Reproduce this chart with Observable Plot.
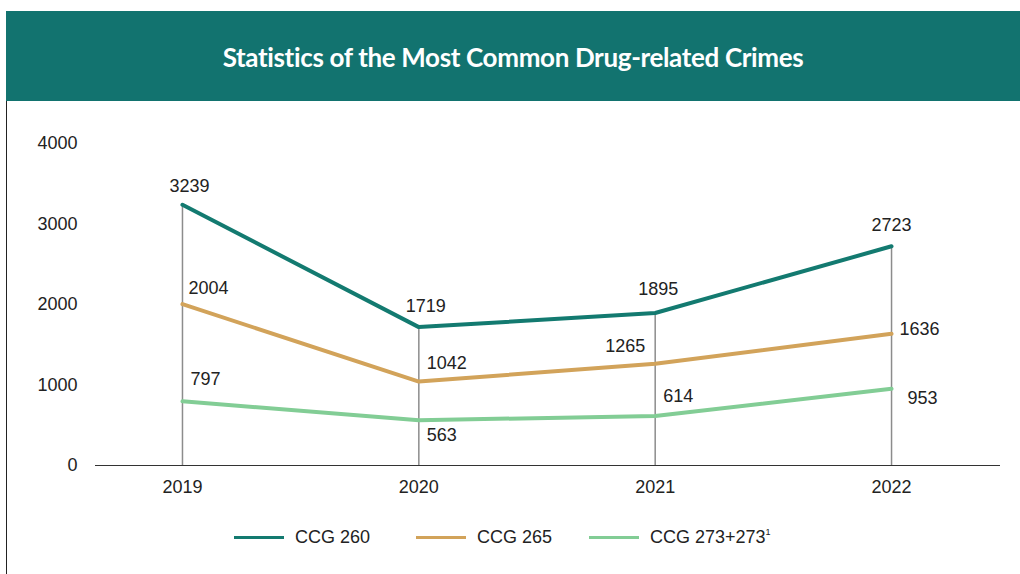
<!DOCTYPE html>
<html>
<head>
<meta charset="utf-8">
<script src="https://cdn.jsdelivr.net/npm/d3@7"></script>
<script src="https://cdn.jsdelivr.net/npm/@observablehq/plot@0.6"></script>
<style>
  html, body { margin: 0; padding: 0; background: #fff; }
  body { width: 1020px; height: 574px; position: relative; overflow: hidden; font-family: "Liberation Sans", Arial, sans-serif; }
  #banner {
    position: absolute; left: 6px; top: 11px; width: 1014px; height: 90px;
    background: #12736f; color: #fff; display: flex; align-items: center; justify-content: center;
  }
  #banner h1 {
    margin: 0; font-family: Lato, "Open Sans", sans-serif; font-weight: 700; font-size: 26px;
    letter-spacing: -0.35px; padding-top: 2px;
  }
  #frame { position: absolute; left: 6px; top: 101px; width: 1px; height: 473px; background: #222; }
  #chart { position: absolute; left: 0; top: 101px; }
  #legend { position: absolute; left: 0; top: 526px; width: 1020px; height: 24px; font-size: 18px; color: #222; }
  .item { position: absolute; top: 0; display: flex; align-items: center; white-space: nowrap; height: 22px; }
  .swatch { width: 50px; height: 3px; margin-right: 11px; }
  sup { font-size: 9px; vertical-align: 8px; line-height: 0; }
</style>
</head>
<body>
<div id="banner"><h1>Statistics of the Most Common Drug-related Crimes</h1></div>
<div id="frame"></div>
<div id="chart"></div>
<div id="legend"></div>
<script>
// Yearly counts for each article of the criminal code
const years = [2019, 2020, 2021, 2022];
const seriesNames = ["CCG 260", "CCG 265", "CCG 273+273"];
const seriesSup = ["", "", "1"];
const ccg260 = [3239, 1719, 1895, 2723];
const ccg265 = [2004, 1042, 1265, 1636];
const ccg273 = [797, 563, 614, 953];
const yTicks = [0, 1000, 2000, 3000, 4000];
const seriesColors = ["#137a70", "#d2a35a", "#82cd95"];

const seriesValues = [ccg260, ccg265, ccg273];

// long table: one row per series and year
const rows = seriesNames.flatMap((name, s) =>
  years.map((year, i) => ({ series: name, year, value: seriesValues[s][i], s, i }))
);

// value label placement (offset from the point, anchor) per series, per year
const labelPlacement = [
  [[7, -19, "middle"], [7, -21, "middle"], [3, -24, "middle"], [0, -21, "middle"]],
  [[6, -16, "start"], [8, -18, "start"], [-10, -17, "end"], [8, -5, "start"]],
  [[8, -22, "start"], [8, 15, "start"], [8, -20, "start"], [16, 9, "start"]]
];

// vertical guide at each year, from zero up to the highest series
const guideTops = years.map((year, i) => ({ year, top: d3.max(seriesValues, v => v[i]) }));

const labelMarks = rows.map(r => {
  const [dx, dy, anchor] = labelPlacement[r.s][r.i];
  return Plot.text([r], {
    x: "year", y: "value", text: d => String(d.value),
    dx, dy, textAnchor: anchor, fill: "#222", fontSize: 18
  });
});

const chart = Plot.plot({
  width: 1020,
  height: 400,
  marginLeft: 95,
  marginRight: 20,
  marginTop: 42,
  marginBottom: 36,
  style: { fontFamily: "'Liberation Sans', Arial, sans-serif", fontSize: "18px", color: "#222", background: "transparent" },
  x: { type: "linear", domain: [2018.632, 2022.461], axis: null },
  y: { domain: [0, 4000], axis: null },
  color: { domain: seriesNames, range: seriesColors },
  marks: [
    Plot.axisY({ ticks: yTicks, tickSize: 0, tickPadding: 18, tickFormat: d3.format("d"), fontSize: 18, label: null }),
    Plot.axisX({ ticks: years, tickSize: 0, tickPadding: 15, tickFormat: d => String(d), fontSize: 18, label: null }),
    Plot.ruleX(guideTops, { x: "year", y1: 0, y2: "top", stroke: "#8c8c8c", strokeWidth: 1.5 }),
    Plot.ruleY([0], { stroke: "#333", strokeWidth: 1.2 }),
    Plot.line(rows, { x: "year", y: "value", z: "series", stroke: "series", strokeWidth: 4, strokeLinejoin: "round" }),
    ...labelMarks
  ]
});
document.getElementById("chart").appendChild(chart);

// legend below the chart
const legendLeft = [234, 416, 589];
const legend = d3.select("#legend");
seriesNames.forEach((name, s) => {
  const item = legend.append("div").attr("class", "item").style("left", legendLeft[s] + "px");
  item.append("div").attr("class", "swatch").style("background", seriesColors[s]);
  const label = item.append("span").text(name);
  if (seriesSup[s]) label.append("sup").text(seriesSup[s]);
});
</script>
</body>
</html>
